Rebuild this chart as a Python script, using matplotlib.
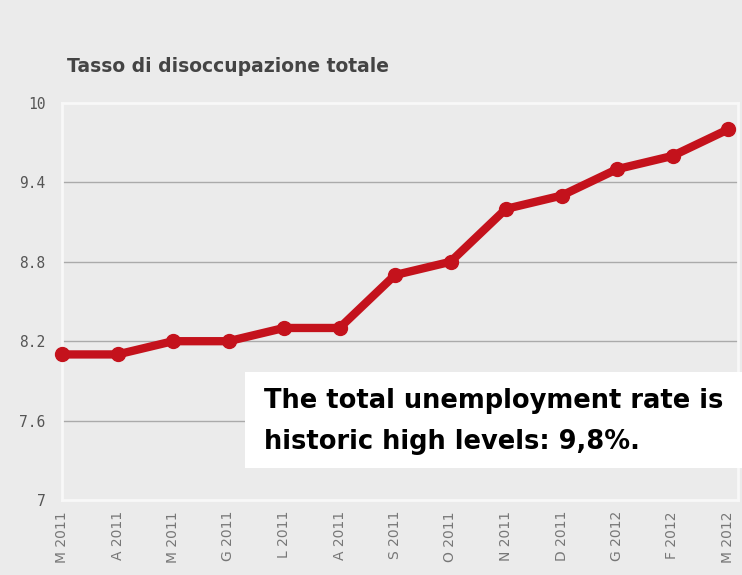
import matplotlib
matplotlib.use("Agg")
import matplotlib.pyplot as plt

months = ["M 2011", "A 2011", "M 2011", "G 2011", "L 2011", "A 2011", "S 2011",
          "O 2011", "N 2011", "D 2011", "G 2012", "F 2012", "M 2012"]
rates = [8.1, 8.1, 8.2, 8.2, 8.3, 8.3, 8.7, 8.8, 9.2, 9.3, 9.5, 9.6, 9.8]
yticks = [7, 7.6, 8.2, 8.8, 9.4, 10]
ytick_labels = ["7", "7.6", "8.2", "8.8", "9.4", "10"]

bg = "#ebebeb"
fig = plt.figure(figsize=(7.42, 5.75), dpi=100, facecolor=bg)
ax = fig.add_axes([62/742, 1 - 500/575, (738 - 62)/742, (500 - 103)/575])
ax.set_facecolor(bg)

x = list(range(len(months)))
ax.plot(x, rates, color="#c4121c", linewidth=6, marker="o", markersize=10,
        solid_capstyle="round", solid_joinstyle="round", zorder=3, clip_on=False)

ax.set_ylim(7, 10)
ax.set_xlim(0, 12 * (738 - 62) / (728 - 62))
ax.set_yticks(yticks)
ax.set_yticklabels(ytick_labels, family="DejaVu Sans Mono", fontsize=10.5, color="#555555")
ax.set_xticks(x)
ax.set_xticklabels(months, rotation=90, fontsize=10, color="#777777", family="DejaVu Sans")
ax.tick_params(axis="y", length=0, pad=12)
ax.tick_params(axis="x", length=0, pad=8)
for yv in [7.6, 8.2, 8.8, 9.4]:
    ax.axhline(yv, color="#aaaaaa", linewidth=1, zorder=1)
for s in ax.spines.values():
    s.set_color("#f8f8f8")
    s.set_linewidth(2)

fig.text(67/742, 1 - 67/575, "Tasso di disoccupazione totale", fontsize=13.5,
         fontweight="bold", color="#444444", va="center", ha="left")

# annotation box
fig.patches.append(plt.Rectangle((245/742, 1 - 468/575), (742 - 245)/742, (468 - 372)/575,
                                 transform=fig.transFigure, facecolor="white",
                                 edgecolor="none", zorder=5))
fig.text(264/742, 1 - 401/575, "The total unemployment rate is", fontsize=18.5,
         fontweight="bold", color="black", va="center", ha="left", zorder=6)
fig.text(264/742, 1 - 442/575, "historic high levels: 9,8%.", fontsize=18.5,
         fontweight="bold", color="black", va="center", ha="left", zorder=6)

fig.savefig("out.png", dpi=100, facecolor=bg)
